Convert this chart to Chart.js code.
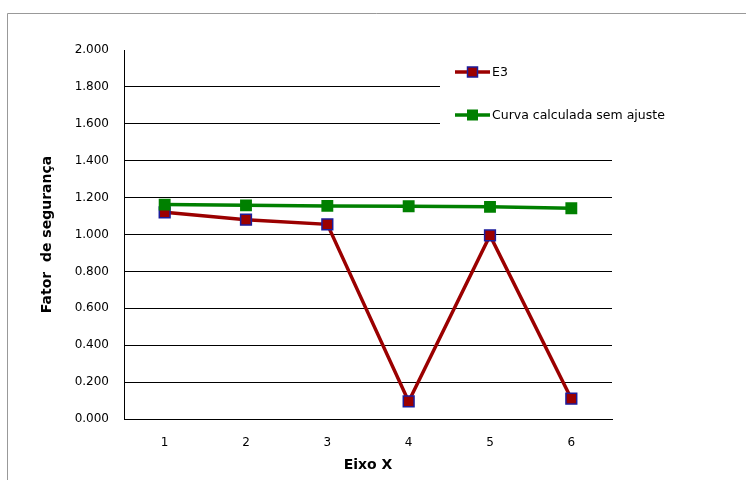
<!DOCTYPE html>
<html>
<head>
<meta charset="utf-8">
<script src="https://cdn.jsdelivr.net/npm/chart.js@4/dist/chart.umd.min.js"></script>
<style>
  html, body { margin: 0; padding: 0; background: #fff; }
  #wrap { width: 746px; height: 480px; }
</style>
</head>
<body>
<div id="wrap"><canvas id="fsChart" width="746" height="480"></canvas></div>
<script>
// Data
const categories = ['1', '2', '3', '4', '5', '6'];
const e3Values = [1.12, 1.08, 1.055, 0.095, 0.995, 0.11];
const curvaValues = [1.162, 1.158, 1.155, 1.153, 1.15, 1.142];
const yTickValues = [0, 0.2, 0.4, 0.6, 0.8, 1.0, 1.2, 1.4, 1.6, 1.8, 2.0];

const RED = '#9b0000';
const GREEN = '#008000';
const tickFont = { family: 'DejaVu Sans', size: 12 };
const titleFont = { family: 'DejaVu Sans', size: 14, weight: 'bold' };

// Outer frame of the chart object (grey, open at right and bottom)
const framePlugin = {
    id: 'frame',
    beforeDraw(chart) {
        const c = chart.ctx;
        c.save();
        c.fillStyle = '#fff';
        c.fillRect(0, 0, chart.width, chart.height);
        c.strokeStyle = '#999';
        c.lineWidth = 1;
        c.beginPath();
        c.moveTo(7.5, chart.height);
        c.lineTo(7.5, 13.5);
        c.lineTo(chart.width, 13.5);
        c.stroke();
        c.restore();
    }
};

// Legend drawn inside the plot area, on a white box over the gridlines
const boxLegend = {
    id: 'boxLegend',
    afterDraw(chart) {
        const c = chart.ctx;
        const rows = [72, 115];
        c.save();
        c.fillStyle = '#fff';
        c.fillRect(440, 60, 260, 76);
        c.font = '12.5px "DejaVu Sans"';
        c.textBaseline = 'middle';
        chart.data.datasets.forEach((ds, i) => {
            const y = rows[i];
            c.strokeStyle = ds.borderColor;
            c.lineWidth = ds.borderWidth;
            c.beginPath();
            c.moveTo(455, y);
            c.lineTo(490, y);
            c.stroke();
            const s = ds.legendBox;
            c.fillStyle = ds.pointBackgroundColor;
            c.fillRect(472.5 - s / 2, y - s / 2, s, s);
            if (ds.pointBorderWidth) {
                c.strokeStyle = ds.pointBorderColor;
                c.lineWidth = ds.pointBorderWidth;
                c.strokeRect(472.5 - s / 2, y - s / 2, s, s);
            }
            c.fillStyle = '#000';
            c.fillText(ds.label, 492, y + 1);
        });
        c.restore();
    }
};

const ctx = document.getElementById('fsChart').getContext('2d');
const fsChart = new Chart(ctx, {
    type: 'line',
    data: {
        labels: categories,
        datasets: [
            {
                label: 'E3',
                data: e3Values,
                borderColor: RED,
                borderWidth: 3.5,
                pointStyle: 'rect',
                pointRadius: 7.6,
                pointBackgroundColor: RED,
                pointBorderColor: '#1c1c9c',
                pointBorderWidth: 1.5,
                legendBox: 10,
                tension: 0,
                order: 1
            },
            {
                label: 'Curva calculada sem ajuste',
                data: curvaValues,
                borderColor: GREEN,
                borderWidth: 3.5,
                pointStyle: 'rect',
                pointRadius: 8.4,
                pointBackgroundColor: GREEN,
                pointBorderColor: GREEN,
                pointBorderWidth: 0,
                legendBox: 11,
                tension: 0,
                order: 0
            }
        ]
    },
    options: {
        responsive: false,
        animation: false,
        events: [],
        layout: { padding: { left: 39, top: 50, right: 134, bottom: 0 } },
        plugins: {
            legend: { display: false },
            tooltip: { enabled: false }
        },
        scales: {
            x: {
                offset: true,
                grid: { display: false },
                border: { display: true, color: '#000', width: 1 },
                ticks: { color: '#000', font: tickFont, padding: 9 },
                title: {
                    display: true,
                    text: 'Eixo X',
                    color: '#000',
                    font: titleFont,
                    padding: { top: 0, bottom: 6 }
                },
                afterFit(scale) { scale.height = 61; }
            },
            y: {
                min: 0,
                max: 2,
                afterBuildTicks(scale) {
                    scale.ticks = yTickValues.map(v => ({ value: v }));
                },
                grid: {
                    drawTicks: false,
                    color: c => (c.tick && c.tick.value === 2 ? 'rgba(0,0,0,0)' : '#000'),
                    lineWidth: 1
                },
                border: { display: true, color: '#000', width: 1 },
                ticks: {
                    color: '#000',
                    font: tickFont,
                    padding: 15,
                    callback: v => v.toFixed(3)
                },
                title: {
                    display: true,
                    text: 'Fator  de segurança',
                    color: '#000',
                    font: titleFont,
                    padding: { top: 0, bottom: 0 }
                },
                afterFit(scale) { scale.width = 85; }
            }
        }
    },
    plugins: [framePlugin, boxLegend]
});
</script>
</body>
</html>
